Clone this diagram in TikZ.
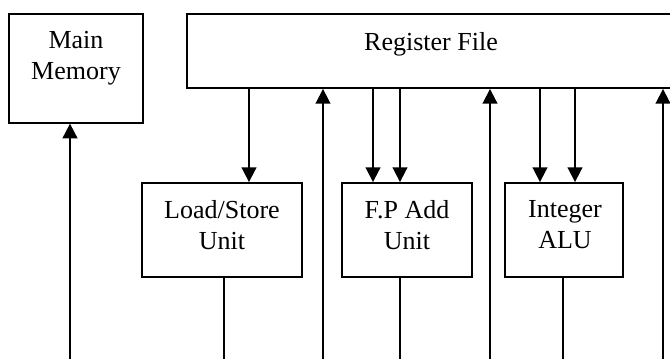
\documentclass[tikz,border=0pt]{standalone}
\usepackage{fontspec}
\setmainfont{Liberation Serif}
\usetikzlibrary{arrows.meta}
\begin{document}
\begin{tikzpicture}[x=0.75pt,y=-0.75pt,
  box/.style={draw,line width=1.4pt,minimum width=#1,inner sep=0pt},
  lbl/.style={align=center,inner sep=0pt,font=\fontsize{19.5}{23.25}\selectfont},
  conn/.style={line width=1.4pt},
  arr/.style={line width=1.4pt,-{Triangle[width=11pt,length=11pt]}}]
\useasboundingbox (0,0) rectangle (670,358);
\clip (0,0) rectangle (670,358);
% boxes
\node[box=100.5pt,minimum height=81.5pt] (mm) at (76,68.35) {};
\node[box=384.75pt,minimum height=55.5pt] (rf) at (443.5,51) {};
\node[box=120pt,minimum height=70.5pt] (ls) at (222,230) {};
\node[box=97.5pt,minimum height=70.5pt] (fp) at (407,230) {};
\node[box=88.5pt,minimum height=70.5pt] (alu) at (564,230) {};
% labels
\node[lbl] (tmm) at (76,58) {Main\\Memory};
\node[lbl] (trf) at (431,44) {Register File};
\node[lbl] (tls) at (222,225) {Load/Store\\Unit};
\node[lbl] (tfp) at (407,225) {F.P Add\\Unit};
\node[lbl] (talu) at (565,225) {Integer\\ALU};
% free bottom ends
\coordinate (b1) at (70,360);
\coordinate (b2) at (224,360);
\coordinate (b3) at (323,360);
\coordinate (b4) at (400,360);
\coordinate (b5) at (490,360);
\coordinate (b6) at (563,360);
\coordinate (b7) at (663,360);
% down-arrow columns
\coordinate (d1) at (249,0);
\coordinate (d2) at (373,0);
\coordinate (d3) at (400,0);
\coordinate (d4) at (540,0);
\coordinate (d5) at (575,0);
% up arrows
\draw[arr] (b1) -- (b1 |- mm.south);
\draw[arr] (b3) -- (b3 |- rf.south);
\draw[arr] (b5) -- (b5 |- rf.south);
\draw[arr] (b7) -- (b7 |- rf.south);
% down arrows
\draw[arr] (d1 |- rf.south) -- (d1 |- ls.north);
\draw[arr] (d2 |- rf.south) -- (d2 |- fp.north);
\draw[arr] (d3 |- rf.south) -- (d3 |- fp.north);
\draw[arr] (d4 |- rf.south) -- (d4 |- alu.north);
\draw[arr] (d5 |- rf.south) -- (d5 |- alu.north);
% output lines
\draw[conn] (b2 |- ls.south) -- (b2);
\draw[conn] (b4 |- fp.south) -- (b4);
\draw[conn] (b6 |- alu.south) -- (b6);
\end{tikzpicture}
\end{document}
